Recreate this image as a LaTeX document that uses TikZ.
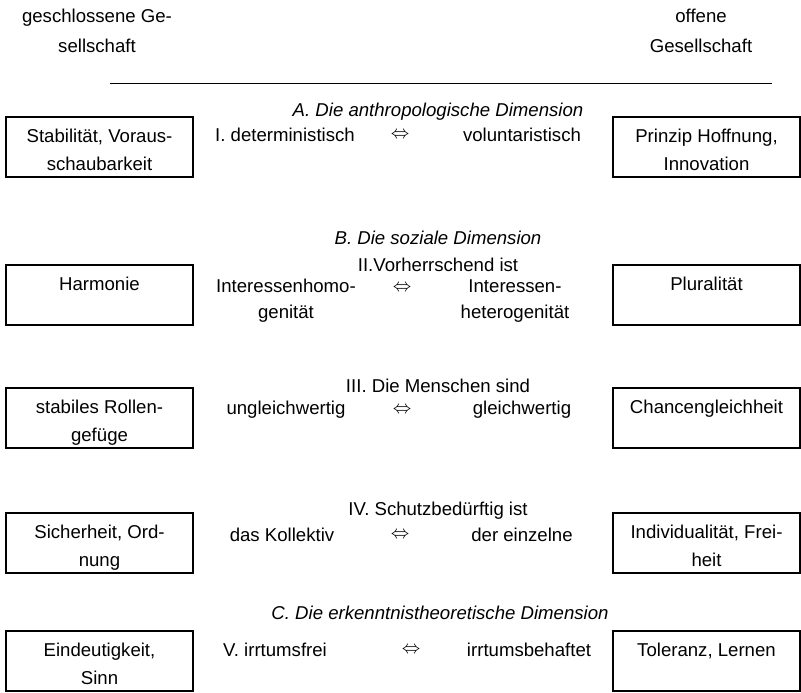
\documentclass[tikz,border=0pt]{standalone}
\usepackage{fontspec}
\setmainfont{Liberation Sans}

\begin{document}
\begin{tikzpicture}[x=0.5pt,y=-0.5pt,
    every node/.style={font=\fontsize{9.3}{13}\selectfont,inner sep=0pt},
    txt/.style={align=center},
    head/.style={align=center,font=\fontsize{9.3}{13}\selectfont\itshape},
    box/.style={draw,line width=0.6pt,align=center,font=\fontsize{9.3}{14}\selectfont,
      text height=23.5pt,text depth=0.5pt,minimum width=93.5pt,minimum height=30pt}]
    \useasboundingbox (0,0) rectangle (801,692);
    %society labels
    \node (closed) at (97,31)[txt,font=\fontsize{9.3}{15}\selectfont]{geschlossene Ge-\\sellschaft};
    \node (open) at (701,31)[txt,font=\fontsize{9.3}{15}\selectfont]{offene\\Gesellschaft};
    \coordinate (rulestart) at (110,83);
    \coordinate (ruleend) at (772,83);
    \draw [line width=0.5pt] (rulestart) -- (ruleend);

    %A
    \node (headA) at (438,112)[head]{A. Die anthropologische Dimension};
    \node (L1) at (99.5,147)[box]{Stabilität, Voraus-\\schaubarkeit};
    \node (R1) at (706.5,147)[box]{Prinzip Hoffnung,\\Innovation};
    \node (M1l) at (285,135)[txt]{I. deterministisch};
    \node (M1a) at (400,135)[txt]{$\Leftrightarrow$};
    \node (M1r) at (522,135)[txt]{voluntaristisch};

    %B
    \node (headB) at (438,238)[head]{B. Die soziale Dimension};
    \node (Q2) at (438,265)[txt]{II.Vorherrschend ist};
    \node (L2) at (99.5,295)[box]{Harmonie\\\phantom{H}};
    \node (R2) at (706.5,295)[box]{Pluralität\\\phantom{H}};
    \node (M2l) at (286,301)[txt]{Interessenhomo-\\genität};
    \node (M2a) at (402,288)[txt]{$\Leftrightarrow$};
    \node (M2r) at (515,301)[txt]{Interessen-\\heterogenität};

    \node (Q3) at (438,386)[txt]{III. Die Menschen sind};
    \node (L3) at (99.5,418)[box]{stabiles Rollen-\\gefüge};
    \node (R3) at (706.5,418)[box]{Chancengleichheit\\\phantom{H}};
    \node (M3l) at (286,410)[txt]{ungleichwertig};
    \node (M3a) at (402,410)[txt]{$\Leftrightarrow$};
    \node (M3r) at (522,410)[txt]{gleichwertig};

    \node (Q4) at (438,511)[txt]{IV. Schutzbedürftig ist};
    \node (L4) at (99.5,543)[box]{Sicherheit, Ord-\\nung};
    \node (R4) at (706.5,543)[box]{Individualität, Frei-\\heit};
    \node (M4l) at (282,535)[txt]{das Kollektiv};
    \node (M4a) at (400,535)[txt]{$\Leftrightarrow$};
    \node (M4r) at (522,535)[txt]{der einzelne};

    %C
    \node (headC) at (440,613)[head]{C. Die erkenntnistheoretische Dimension};
    \node (L5) at (99.5,661)[box]{Eindeutigkeit,\\Sinn};
    \node (R5) at (706.5,661)[box]{Toleranz, Lernen\\\phantom{H}};
    \node (M5l) at (275,650)[txt]{V. irrtumsfrei};
    \node (M5a) at (411,650)[txt]{$\Leftrightarrow$};
    \node (M5r) at (529,650)[txt]{irrtumsbehaftet};
  \end{tikzpicture}
\end{document}
